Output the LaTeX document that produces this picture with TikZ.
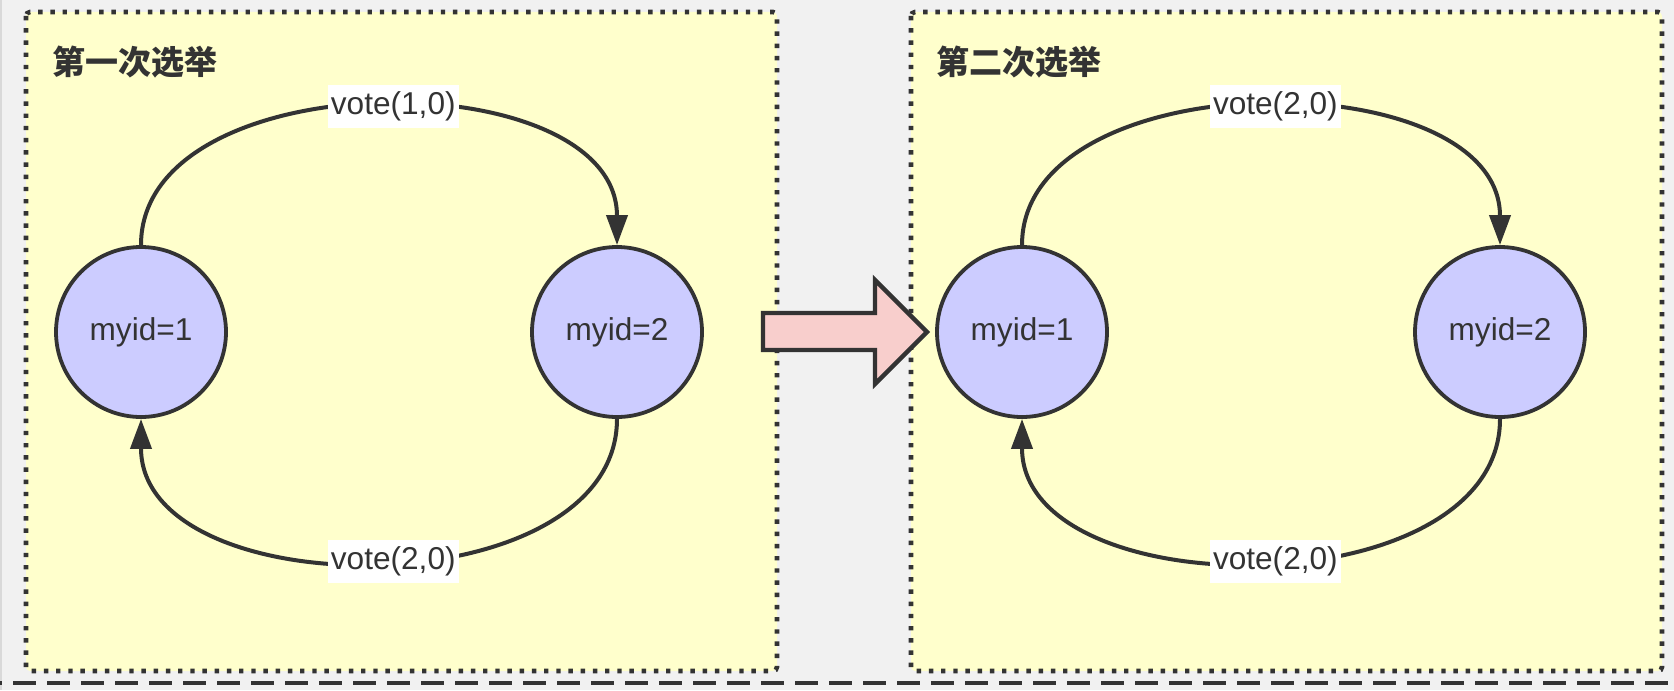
\documentclass[tikz,border=0pt]{standalone}
\usepackage{fontspec}
\setmainfont{Liberation Sans}
\newfontfamily\cjk{Noto Sans CJK SC}
\usetikzlibrary{arrows.meta}
\definecolor{ink}{HTML}{333333}
\definecolor{bggray}{HTML}{F1F1F1}
\definecolor{yellowbg}{HTML}{FFFFCC}
\definecolor{peerfill}{HTML}{CCCCFF}
\definecolor{arrowfill}{HTML}{F8CECC}
\begin{document}
\begin{tikzpicture}[x=0.5pt,y=-0.5pt,
  panel/.style={fill=yellowbg, draw=ink, line width=2.3pt, dash pattern=on 2.2pt off 3.9pt, rounded corners=2pt},
  peer/.style={circle, draw=ink, fill=peerfill, line width=1.9pt, minimum size=85pt, inner sep=0pt,
    font=\fontsize{15.8}{18}\selectfont, text=ink},
  vlabel/.style={fill=white, inner xsep=1.5pt, inner ysep=0pt, minimum height=21.5pt,
    font=\fontsize{15.8}{18}\selectfont, text=ink},
  msg/.style={draw=ink, line width=2pt, -{Triangle[length=15pt,width=10.5pt]}},
  paneltitle/.style={anchor=west, inner sep=0pt, font=\cjk\bfseries\fontsize{16.5}{20}\selectfont, text=ink},
  bigarrow/.style={fill=arrowfill, draw=ink, line width=2.2pt, line join=miter},
  outerline/.style={draw=ink, line width=2pt, dash pattern=on 11.5pt off 5.5pt}
]
\useasboundingbox (0,0) rectangle (1674,690);
\fill[bggray] (0,0) rectangle (1674,690);
\draw[black!15, line width=0.6pt] (1,0) -- (1,690);
\draw[outerline] (-21,683) -- (1700,683);

% panels
\draw[panel] (26,12) rectangle (777,671);
\draw[panel] (911,12) rectangle (1662,671);

\node[paneltitle] (t1) at (52,62) {第一次选举};
\node[paneltitle] (t2) at (936,62) {第二次选举};

% first election
\node[peer] (a1) at (141,332) {myid=1};
\node[peer] (a2) at (617,332) {myid=2};
\draw[msg] (a1.north) .. controls +(0,-185) and +(0,-185) .. node[vlabel, pos=0.52] (la1) {vote(1,0)} (a2.north);
\draw[msg] (a2.south) .. controls +(0,190) and +(0,190) .. node[vlabel, pos=0.48] (la2) {vote(2,0)} (a1.south);

% second election
\node[peer] (b1) at (1022,332) {myid=1};
\node[peer] (b2) at (1500,332) {myid=2};
\draw[msg] (b1.north) .. controls +(0,-185) and +(0,-185) .. node[vlabel, pos=0.52] (lb1) {vote(2,0)} (b2.north);
\draw[msg] (b2.south) .. controls +(0,190) and +(0,190) .. node[vlabel, pos=0.48] (lb2) {vote(2,0)} (b1.south);

% transition arrow
\draw[bigarrow] (763,313) -- (875,313) -- (875,280) -- (927,332) -- (875,384) -- (875,350) -- (763,350) -- cycle;
\end{tikzpicture}
\end{document}
